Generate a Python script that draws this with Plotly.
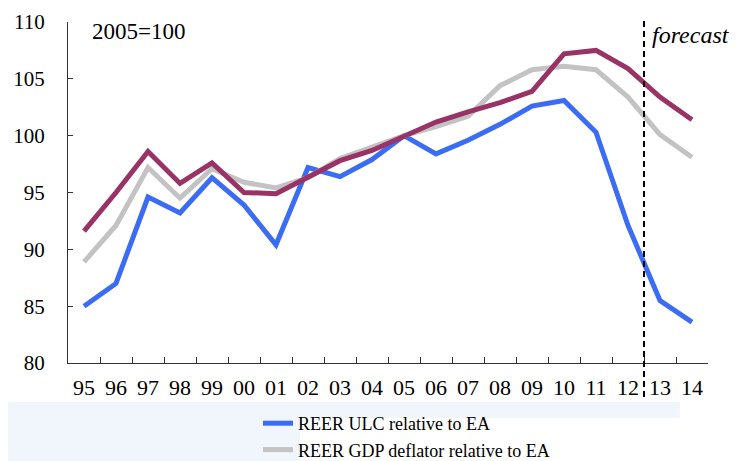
import plotly.graph_objects as go

years = ["95", "96", "97", "98", "99", "00", "01", "02", "03", "04",
         "05", "06", "07", "08", "09", "10", "11", "12", "13", "14"]

reer_ulc = [85.0, 87.0, 94.6, 93.2, 96.3, 93.9, 90.4, 97.2, 96.4, 97.9,
            100.0, 98.4, 99.6, 101.0, 102.6, 103.1, 100.3, 92.1, 85.5, 83.6]

reer_gdp = [88.9, 92.1, 97.2, 94.5, 97.1, 95.9, 95.4, 96.3, 98.0, 99.0,
            100.0, 100.8, 101.7, 104.4, 105.8, 106.1, 105.8, 103.4, 100.1, 98.1]

reer_third = [91.6, 95.0, 98.6, 95.8, 97.6, 95.0, 94.9, 96.4, 97.8, 98.7,
              100.0, 101.2, 102.1, 102.9, 103.9, 107.2, 107.5, 105.9, 103.4, 101.4]

series_names = ["REER ULC relative to EA", "REER GDP deflator relative to EA",
                "REER relative to EA"]
# forecast starts after 2012 (index 17) -> boundary between "12" and "13"
forecast_boundary = 17.5
y_ticks = [80, 85, 90, 95, 100, 105, 110]

SERIF = "Liberation Serif"
BAND = "#f1f5fc"

fig = go.Figure()
fig.add_trace(go.Scatter(x=years, y=reer_ulc, mode="lines", name=series_names[0],
                         legendgroup="a",
                         line=dict(color="#3a6cf6", width=5)))
fig.add_trace(go.Scatter(x=years, y=reer_gdp, mode="lines", name=series_names[1],
                         legendgroup="b",
                         line=dict(color="#c3c3c3", width=5)))
fig.add_trace(go.Scatter(x=years, y=reer_third, mode="lines", name=series_names[2],
                         legendgroup="c", showlegend=False,
                         line=dict(color="#993366", width=5)))

# pale background bands at the bottom
fig.add_shape(type="rect", xref="paper", yref="paper",
              x0=-0.2, x1=0.3625, y0=-0.4, y1=-0.1144,
              fillcolor=BAND, line=dict(width=0), layer="below")
fig.add_shape(type="rect", xref="paper", yref="paper",
              x0=0.3625, x1=0.956, y0=-0.161, y1=-0.1144,
              fillcolor=BAND, line=dict(width=0), layer="below")

# forecast divider
fig.add_shape(type="line", xref="x", yref="paper",
              x0=forecast_boundary, x1=forecast_boundary, y0=-0.1, y1=1.009,
              line=dict(color="black", width=2, dash="6px,4px"))

fig.add_annotation(text="2005=100", xref="paper", yref="paper",
                   x=0.034, y=0.971, xanchor="left", yanchor="middle",
                   showarrow=False, font=dict(family=SERIF, size=23, color="black"))
fig.add_annotation(text="<i>forecast</i>", xref="paper", yref="paper",
                   x=0.909, y=0.962, xanchor="left", yanchor="middle",
                   showarrow=False, font=dict(family=SERIF, size=24, color="black"))

fig.update_layout(
    width=732, height=453,
    margin=dict(l=60, r=32, t=14, b=98, autoexpand=False),
    paper_bgcolor="white", plot_bgcolor="white",
    font=dict(family=SERIF, color="black"),
    showlegend=True,
    legend=dict(xref="container", yref="container",
                x=0.3415, y=0.1236, xanchor="left", yanchor="top",
                bgcolor="rgba(0,0,0,0)", borderwidth=0,
                font=dict(family=SERIF, size=18, color="black"),
                tracegroupgap=0),
    xaxis=dict(type="category", range=[-0.5, 19.5], automargin=False,
               showgrid=False, zeroline=False,
               showline=True, linecolor="#333333", linewidth=1,
               ticks="inside", ticklen=6, tickcolor="#333333",
               tickson="boundaries",
               tickfont=dict(family=SERIF, size=22, color="black"),
               ticklabelstandoff=5),
    yaxis=dict(range=[80, 110], tickvals=y_ticks, automargin=False,
               showgrid=False, zeroline=False,
               showline=True, linecolor="#333333", linewidth=1,
               ticks="inside", ticklen=5, tickcolor="#333333",
               tickfont=dict(family=SERIF, size=21, color="black"),
               ticklabelstandoff=18),
)

fig.write_html("out.html")
